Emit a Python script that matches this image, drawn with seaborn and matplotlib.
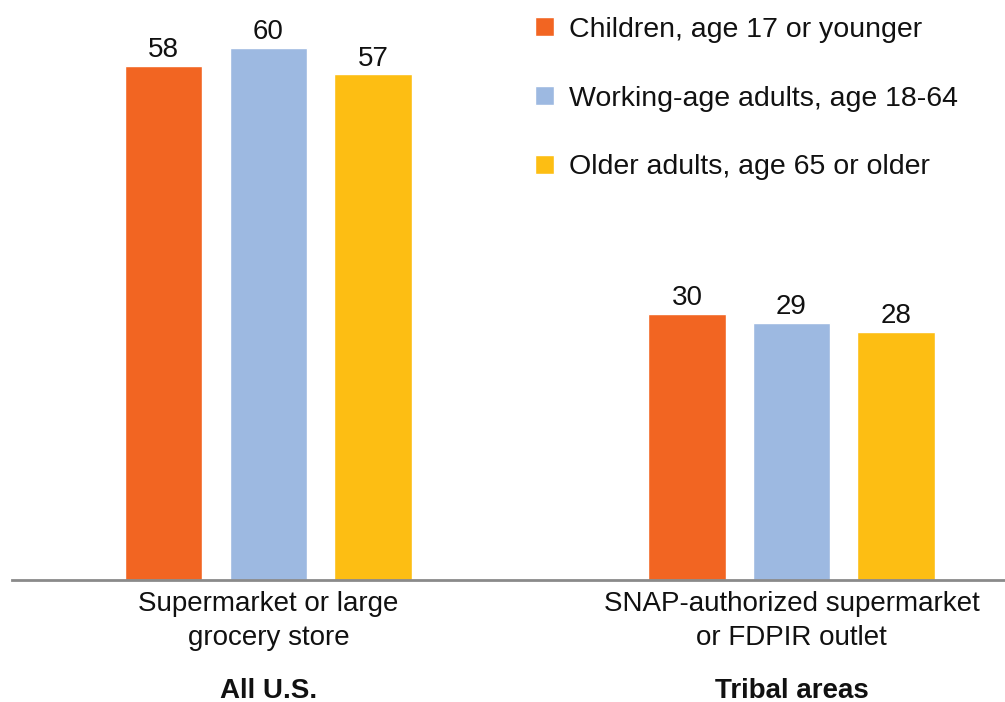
import matplotlib
matplotlib.use("Agg")
import matplotlib.pyplot as plt
import matplotlib.transforms as mtransforms
import seaborn as sns
import pandas as pd

# Data
categories = ["Supermarket or large\ngrocery store",
              "SNAP-authorized supermarket\nor FDPIR outlet"]
regions = ["All U.S.", "Tribal areas"]
age_groups = ["Children, age 17 or younger",
              "Working-age adults, age 18-64",
              "Older adults, age 65 or older"]
children = [58, 30]
working_age = [60, 29]
older = [57, 28]
colors = ["#F26522", "#9DB9E1", "#FDBE13"]

rows = []
for series, vals in zip(age_groups, [children, working_age, older]):
    for cat, v in zip(categories, vals):
        rows.append({"category": cat, "group": series, "value": v})
df = pd.DataFrame(rows)

sns.set_theme(style="white")
plt.rcParams["font.family"] = ["Liberation Sans", "DejaVu Sans"]
ink = "#111111"

fig = plt.figure(figsize=(10.05, 7.02), dpi=100)
ax = fig.add_axes([12 / 1005, (702 - 580) / 702, 1 - 12 / 1005, 580 / 702])

sns.barplot(data=df, x="category", y="value", hue="group", order=categories,
            hue_order=age_groups, palette=colors, width=0.6, gap=0.26,
            saturation=1, ax=ax, legend=True)

for container in ax.containers:
    ax.bar_label(container, fmt="%d", padding=2, fontsize=20, color=ink)

ax.set_xlim(-0.49, 1.408)
ax.set_ylim(0, 65.4)
ax.set_xlabel("")
ax.set_ylabel("")
ax.set_yticks([])
for side in ["top", "right", "left"]:
    ax.spines[side].set_visible(False)
ax.spines["bottom"].set_color("#8a8a8a")
ax.spines["bottom"].set_linewidth(2)
ax.tick_params(axis="x", length=0, pad=8)
ax.set_xticks([0, 1])
ax.set_xticklabels(categories, fontsize=20, color=ink, linespacing=1.4)

trans = mtransforms.blended_transform_factory(ax.transData, fig.transFigure)
for i, r in enumerate(regions):
    fig.text(i, (702 - 691) / 702, r, transform=trans, ha="center", va="center",
             fontsize=20, fontweight="bold", color=ink)

leg = ax.legend(loc="upper left", bbox_to_anchor=(0.514, 0.993), frameon=False,
                fontsize=20.5, handlelength=0.65, handleheight=0.65,
                handletextpad=0.55, labelspacing=1.5, borderaxespad=0.05)
for t in leg.get_texts():
    t.set_color(ink)

fig.savefig("out.png", dpi=100)
